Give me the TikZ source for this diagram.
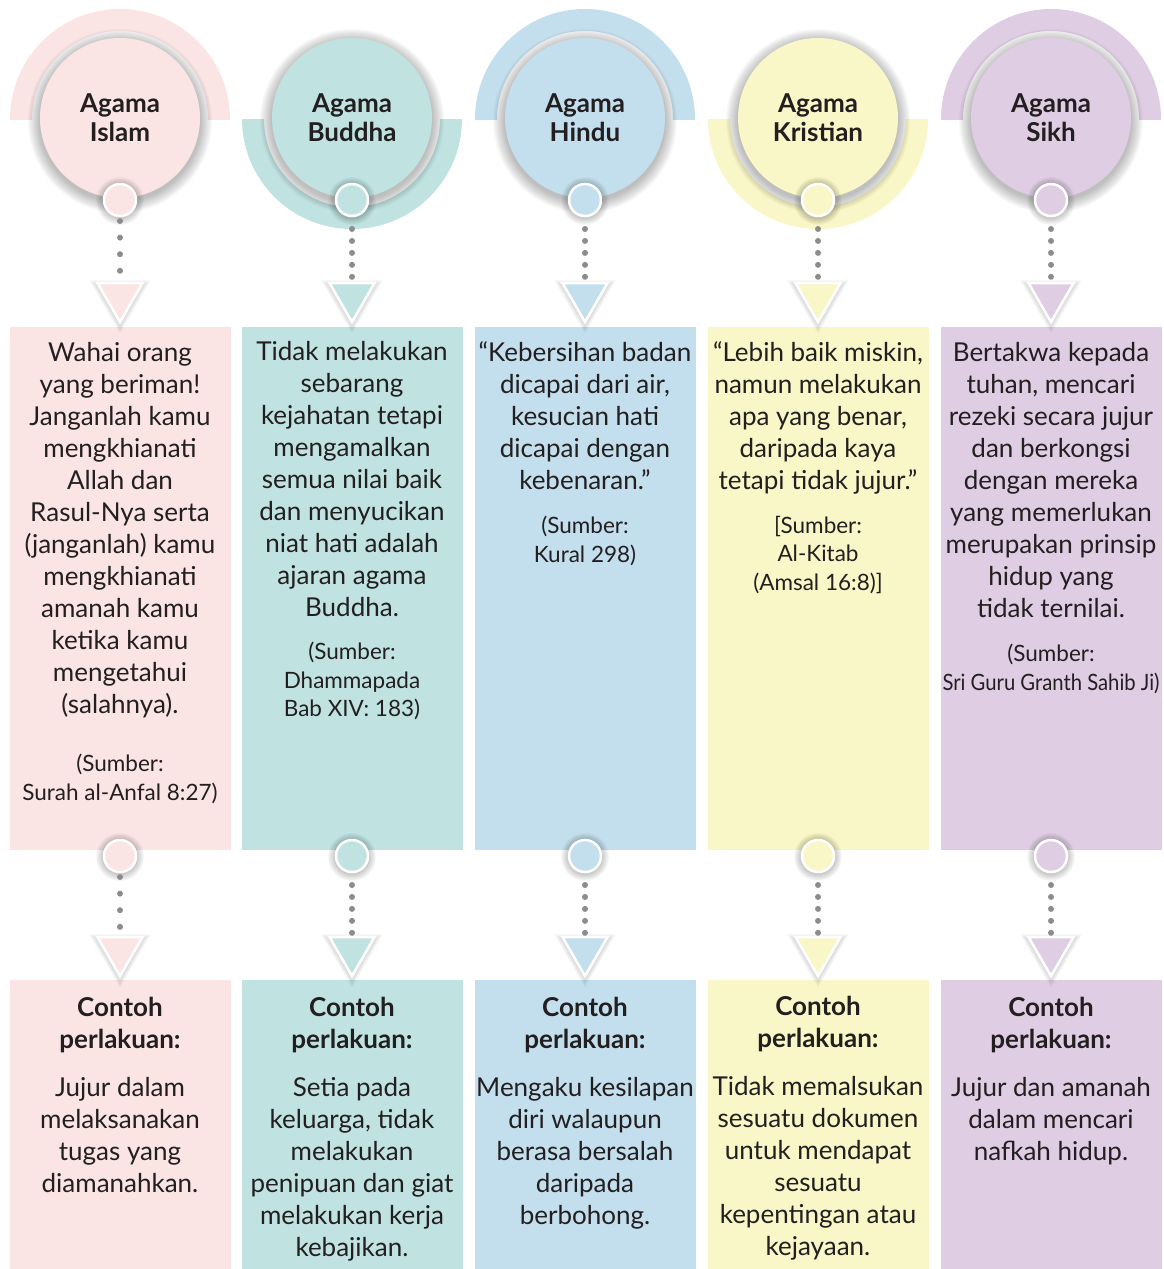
\documentclass[tikz,border=0pt]{standalone}
\usepackage{fontspec}
\setmainfont{Lato}
\usepackage{tikz}
\usetikzlibrary{shapes.geometric,positioning}

\definecolor{pinkc}{HTML}{FBE5E4}
\definecolor{tealc}{HTML}{C0E3E1}
\definecolor{bluec}{HTML}{C3DFED}
\definecolor{yellowc}{HTML}{F9F6C7}
\definecolor{lilacc}{HTML}{DFCDE4}
\definecolor{dotgray}{HTML}{8C8C8C}
\definecolor{ink}{HTML}{231F20}

\tikzstyle{head} = [circle, minimum size=160pt, inner sep=0pt, align=center,
    text=ink, font=\fontsize{26}{29}\selectfont\bfseries]
\tikzstyle{knob} = [circle, draw=white, line width=2.5pt, minimum size=32pt, inner sep=0pt]
\tikzstyle{tri} = [regular polygon, regular polygon sides=3, shape border rotate=180,
    draw=white, line width=2.5pt, minimum size=52pt, inner sep=0pt, outer sep=0pt]
\tikzstyle{box} = [rectangle, minimum width=221pt, inner sep=0pt, anchor=north]
\tikzstyle{quotetext} = [align=center, inner sep=0pt, anchor=north, text=ink,
    font=\fontsize{26}{32}\selectfont]
\tikzstyle{srctext} = [align=center, inner sep=0pt, anchor=north, text=ink,
    font=\fontsize{22.5}{28.5}\selectfont]
\tikzstyle{dotline} = [draw=dotgray, line width=6pt, line cap=round]

\begin{document}
\begin{tikzpicture}[x=1pt, y=-1pt]
\useasboundingbox (0,0) rectangle (1164,1269);

% Columns: boxes, heads, knobs and arrows
\foreach \i/\cx/\col/\rel/\sgn/\cfirst/\clast/\cgap in
  {1/120/pinkc/Islam/-1/21/10/16.6,
   2/352/tealc/Buddha/1/29/4/11.95,
   3/585/bluec/Hindu/-1/29/4/11.95,
   4/818/yellowc/Kristian/1/29/4/11.95,
   5/1051/lilacc/Sikh/-1/29/4/11.95}
{
  % Boxes
  \node[box, fill=\col, minimum height=523pt] (quote\i) at (\cx,327) {};
  \node[box, fill=\col, minimum height=289pt] (deed\i) at (\cx,980) {};

  % Half ring behind the head
  \begin{scope}
    \clip (\cx-112,119) rectangle (\cx+112,{119+\sgn*112});
    \fill[\col, even odd rule] (\cx,119) circle (110) (\cx,119) circle (88);
  \end{scope}

  % Head and its shadow
  \foreach \k in {1,...,12}
    \fill[black, opacity=0.022] (\cx,121) circle ({80+\k});
  \node[head, fill=\col] (head\i) at (\cx,118) {Agama\\\rel};

  % Upper knob and arrow
  \foreach \k in {1,...,7}
    \fill[black, opacity=0.03] (\cx,201) circle ({17+\k});
  \node[knob, fill=\col] (knobA\i) at (\cx,200) {};
  \foreach \k in {1,...,6}
    \node[tri, draw=none, fill=black, opacity=0.025, minimum size={54+3*\k}] at (\cx,298) {};
  \node[tri, fill=\col] (triA\i) at (\cx,296) {};
  \draw[dotline, dash pattern=on 0pt off \cgap pt, shorten <=\cfirst pt, shorten >=\clast pt]
    (knobA\i.center) -- (triA\i.north);

  % Lower knob and arrow
  \foreach \k in {1,...,7}
    \fill[black, opacity=0.03] (\cx,857) circle ({17+\k});
  \node[knob, fill=\col] (knobB\i) at (\cx,856) {};
  \foreach \k in {1,...,6}
    \node[tri, draw=none, fill=black, opacity=0.025, minimum size={54+3*\k}] at (\cx,952) {};
  \node[tri, fill=\col] (triB\i) at (\cx,950) {};
  \draw[dotline, dash pattern=on 0pt off \cgap pt, shorten <=\cfirst pt, shorten >=\clast pt]
    (knobB\i.center) -- (triB\i.north);
}

% Teachings
\node[quotetext] (say1) at (120,342) {Wahai orang\\yang beriman!\\Janganlah kamu\\mengkhianati\\Allah dan\\Rasul-Nya serta\\(janganlah) kamu\\mengkhianati\\amanah kamu\\ketika kamu\\mengetahui\\(salahnya).};
\node[quotetext] (say2) at (352,341) {Tidak melakukan\\sebarang\\kejahatan tetapi\\mengamalkan\\semua nilai baik\\dan menyucikan\\niat hati adalah\\ajaran agama\\Buddha.};
\node[quotetext] (say3) at (585,341) {“Kebersihan badan\\dicapai dari air,\\kesucian hati\\dicapai dengan\\kebenaran.”};
\node[quotetext] (say4) at (818,341) {“Lebih baik miskin,\\namun melakukan\\apa yang benar,\\daripada kaya\\tetapi tidak jujur.”};
\node[quotetext] (say5) at (1051,342) {Bertakwa kepada\\tuhan, mencari\\rezeki secara jujur\\dan berkongsi\\dengan mereka\\yang memerlukan\\merupakan prinsip\\hidup yang\\tidak ternilai.};

% Sources
\node[srctext] (src1) at (120,754) {(Sumber:\\Surah al-Anfal 8:27)};
\node[srctext] (src2) at (352,642) {(Sumber:\\Dhammapada\\Bab XIV: 183)};
\node[srctext] (src3) at (585,516) {(Sumber:\\Kural 298)};
\node[srctext] (src4) at (818,516) {[Sumber:\\Al-Kitab\\(Amsal 16:8)]};
\node[srctext] (src5) at (1051,644) {(Sumber:\\\scalebox{0.9}[1]{Sri Guru Granth Sahib Ji)}};

% Examples of deeds
\node[quotetext] (ex1) at (120,997) {{\bfseries Contoh}\\{\bfseries perlakuan:}\\[16pt]Jujur dalam\\melaksanakan\\tugas yang\\diamanahkan.};
\node[quotetext] (ex2) at (352,997) {{\bfseries Contoh}\\{\bfseries perlakuan:}\\[16pt]Setia pada\\keluarga, tidak\\melakukan\\penipuan dan giat\\melakukan kerja\\kebajikan.};
\node[quotetext] (ex3) at (585,997) {{\bfseries Contoh}\\{\bfseries perlakuan:}\\[16pt]Mengaku kesilapan\\diri walaupun\\berasa bersalah\\daripada\\berbohong.};
\node[quotetext] (ex4) at (818,996) {{\bfseries Contoh}\\{\bfseries perlakuan:}\\[16pt]Tidak memalsukan\\sesuatu dokumen\\untuk mendapat\\sesuatu\\kepentingan atau\\kejayaan.};
\node[quotetext] (ex5) at (1051,997) {{\bfseries Contoh}\\{\bfseries perlakuan:}\\[16pt]Jujur dan amanah\\dalam mencari\\nafkah hidup.};

\end{tikzpicture}
\end{document}
